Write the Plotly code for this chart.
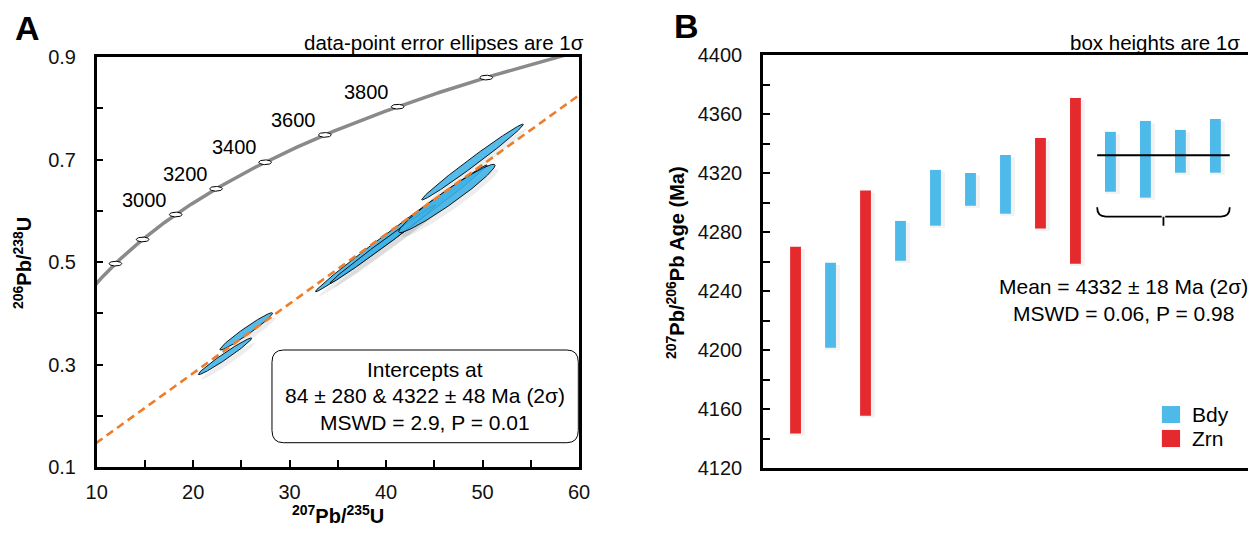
import numpy as np
import plotly.graph_objects as go

# ---------------- Panel A data (207Pb/235U, 1s, 206Pb/238U, 1s, rho) ----------------
r75 = [48.96, 41.58, 39.66, 46.30, 25.50, 23.30]
s75 = [5.27, 8.90, 5.48, 5.00, 2.73, 2.77]
r68 = [0.695, 0.5657, 0.5348, 0.624, 0.3647, 0.316]
s68 = [0.074, 0.1237, 0.0764, 0.0667, 0.0364, 0.0358]
rho = [0.9913, 0.9961, 0.9955, 0.968, 0.973, 0.980]

conc_ages = [2600, 2800, 3000, 3200, 3400, 3600, 3800, 4000]
conc_labels = ["", "", "3000", "3200", "3400", "3600", "3800", ""]
lower_intercept = 84      # Ma
upper_intercept = 4322    # Ma

# ---------------- Panel B data ----------------
grain = list(range(1, 14))
age76 = [4206.7, 4230.4, 4231.8, 4274.0, 4303.2, 4308.9, 4312.3, 4313.0, 4314.7,
         4327.6, 4329.3, 4334.7, 4338.4]
sig76 = [63.3, 28.8, 76.3, 13.5, 18.9, 11.1, 19.9, 30.7, 56.2, 20.3, 26.0, 14.5, 18.2]
phase = ["Zrn", "Bdy", "Zrn", "Bdy", "Bdy", "Bdy", "Bdy", "Zrn", "Zrn",
         "Bdy", "Bdy", "Bdy", "Bdy"]
mean_age = 4332

L238 = 1.55125e-10
L235 = 9.8485e-10

def conc(t_ma):
    t = np.asarray(t_ma, dtype=float) * 1e6
    return np.exp(L235 * t) - 1, np.exp(L238 * t) - 1

FONT = "Arial, Liberation Sans, Helvetica, sans-serif"
BLUE = "#4DBAEA"
RED = "#E52A2E"

fig = go.Figure()

# concordia curve
tc = np.linspace(2300, 4250, 500)
cx, cy = conc(tc)
fig.add_trace(go.Scatter(x=cx, y=cy, mode="lines", line=dict(color="#8A8A8A", width=3.5),
                         hoverinfo="skip", showlegend=False, xaxis="x", yaxis="y"))

# concordia age markers (small horizontal ellipses)
th = np.linspace(0, 2 * np.pi, 61)
mx, my = conc(conc_ages)
for x0, y0 in zip(mx, my):
    fig.add_trace(go.Scatter(x=x0 + 0.66 * np.cos(th), y=y0 + 0.0046 * np.sin(th),
                             mode="lines", fill="toself", fillcolor="white",
                             line=dict(color="black", width=1), hoverinfo="skip",
                             showlegend=False, xaxis="x", yaxis="y"))

# data-point error ellipses (shadow first)
th2 = np.linspace(0, 2 * np.pi, 241)
for ex0, sx, ey0, sy, r in zip(r75, s75, r68, s68, rho):
    ex = ex0 + sx * np.cos(th2)
    ey = ey0 + sy * (r * np.cos(th2) + np.sqrt(1 - r * r) * np.sin(th2))
    fig.add_trace(go.Scatter(x=ex + 0.35, y=ey - 0.009, mode="lines", fill="toself",
                             fillcolor="rgba(0,0,0,0.07)", line=dict(width=0),
                             hoverinfo="skip", showlegend=False, xaxis="x", yaxis="y"))
for ex0, sx, ey0, sy, r in zip(r75, s75, r68, s68, rho):
    ex = ex0 + sx * np.cos(th2)
    ey = ey0 + sy * (r * np.cos(th2) + np.sqrt(1 - r * r) * np.sin(th2))
    fig.add_trace(go.Scatter(x=ex, y=ey, mode="lines", fill="toself",
                             fillcolor="rgba(62,178,232,0.88)",
                             line=dict(color="black", width=0.9),
                             hoverinfo="skip", showlegend=False, xaxis="x", yaxis="y"))

# discordia
dx, dy = conc([lower_intercept, upper_intercept])
fig.add_trace(go.Scatter(x=dx, y=dy, mode="lines",
                         line=dict(color="#EE7D2B", width=2.6, dash="8px,5px"),
                         hoverinfo="skip", showlegend=False, xaxis="x", yaxis="y"))

# ---------------- Panel B traces ----------------
for ph, col in (("Bdy", BLUE), ("Zrn", RED)):
    xs = [g for g, p in zip(grain, phase) if p == ph]
    lo = [a - s for a, s, p in zip(age76, sig76, phase) if p == ph]
    hh = [2 * s for s, p in zip(sig76, phase) if p == ph]
    fig.add_trace(go.Bar(x=[v + 0.06 for v in xs], y=hh, base=[v - 1.5 for v in lo],
                         width=0.42, marker=dict(color="rgba(0,0,0,0.05)", line=dict(width=0)),
                         hoverinfo="skip", showlegend=False, xaxis="x2", yaxis="y2"))
for ph, col in (("Bdy", BLUE), ("Zrn", RED)):
    xs = [g for g, p in zip(grain, phase) if p == ph]
    lo = [a - s for a, s, p in zip(age76, sig76, phase) if p == ph]
    hh = [2 * s for s, p in zip(sig76, phase) if p == ph]
    fig.add_trace(go.Bar(x=xs, y=hh, base=lo, width=0.31, name=ph,
                         marker=dict(color=col, line=dict(width=0)),
                         showlegend=False, xaxis="x2", yaxis="y2"))

# weighted mean line
fig.add_trace(go.Scatter(x=[grain[9] - 0.38, grain[12] + 0.41], y=[mean_age, mean_age],
                         mode="lines", line=dict(color="black", width=2),
                         hoverinfo="skip", showlegend=False, xaxis="x2", yaxis="y2"))

shapes = []
# rounded annotation box in panel A
bx0, bx1, by0, by1, rx, ry = 28.17, 59.93, 0.1474, 0.3283, 1.2, 0.024
path = (f"M {bx0+rx},{by1} L {bx1-rx},{by1} Q {bx1},{by1} {bx1},{by1-ry} "
        f"L {bx1},{by0+ry} Q {bx1},{by0} {bx1-rx},{by0} L {bx0+rx},{by0} "
        f"Q {bx0},{by0} {bx0},{by0+ry} L {bx0},{by1-ry} Q {bx0},{by1} {bx0+rx},{by1} Z")
shapes.append(dict(type="path", path=path, xref="x", yref="y",
                   line=dict(color="black", width=1), fillcolor="white", layer="above"))

# brace under the last four grains
b0, b1 = 9.62, 13.41
bm = (b0 + b1) / 2
yt, yh, yb = 4296.7, 4290.4, 4284.3
bpath = (f"M {b0},{yt} Q {b0},{yh} {b0+0.25},{yh} L {bm-0.05},{yh} "
         f"M {bm},{yh} L {bm},{yb} M {bm+0.05},{yh} L {b1-0.25},{yh} Q {b1},{yh} {b1},{yt}")
shapes.append(dict(type="path", path=bpath, xref="x2", yref="y2",
                   line=dict(color="black", width=1.8)))

# legend swatches
shapes.append(dict(type="rect", xref="x2", yref="y2", x0=11.47, x1=11.99, y0=4150.5, y1=4162,
                   fillcolor=BLUE, line=dict(width=0)))
shapes.append(dict(type="rect", xref="x2", yref="y2", x0=11.47, x1=11.99, y0=4134.2, y1=4145.8,
                   fillcolor=RED, line=dict(width=0)))

ann = []
def text(x, y, s, size=20, xref="paper", yref="paper", xanchor="center", yanchor="middle",
         angle=0, xshift=0, yshift=0):
    ann.append(dict(x=x, y=y, xref=xref, yref=yref, text=s, showarrow=False,
                    xanchor=xanchor, yanchor=yanchor, textangle=angle,
                    xshift=xshift, yshift=yshift,
                    font=dict(family=FONT, size=size, color="black")))

# the page body adds an 8 px margin; the figure fills the rest of the window
OFF = 8
W, H = 1256 - OFF, 536 - OFF
def px(xp): return (xp - OFF) / W
def py(yp): return 1 - (yp - OFF) / H

text(px(27), py(28), "<b>A</b>", size=34)
text(px(686), py(26), "<b>B</b>", size=34)
text(px(586), py(42), "data-point error ellipses are 1σ", size=20.5, xanchor="right")
text(px(1242), py(42), "box heights are 1σ", size=20.5, xanchor="right")

# concordia age labels
for x0, y0, lab in zip(mx, my, conc_labels):
    if lab:
        text(x0, y0, lab, size=20, xref="x", yref="y", xshift=-31, yshift=15)

# intercept box text
xc = (bx0 + bx1) / 2
text(xc, 0.2893, "Intercepts at", size=21, xref="x", yref="y")
text(xc, 0.2386, "84 ± 280 &amp; 4322 ± 48 Ma (2σ)", size=21, xref="x", yref="y")
text(xc, 0.1878, "MSWD = 2.9, P = 0.01", size=21, xref="x", yref="y")

# mean text
text(10.37, 4242.9, "Mean = 4332 ± 18 Ma (2σ)", size=21, xref="x2", yref="y2")
text(10.37, 4224.9, "MSWD = 0.06, P = 0.98", size=21, xref="x2", yref="y2")

# legend labels
text(12.27, 4156.2, "Bdy", size=21, xref="x2", yref="y2", xanchor="left")
text(12.27, 4140.0, "Zrn", size=21, xref="x2", yref="y2", xanchor="left")

# axis titles
text(px(338), py(514), "<b><sup>207</sup>Pb/<sup>235</sup>U</b>", size=20)
text(px(23), py(263), "<b><sup>206</sup>Pb/<sup>238</sup>U</b>", size=20, angle=-90)
text(px(676), py(263), "<b><sup>207</sup>Pb/<sup>206</sup>Pb Age (Ma)</b>", size=20, angle=-90)

axis_common = dict(showgrid=False, zeroline=False, showline=True, linecolor="black",
                   linewidth=2.5, mirror=True, ticks="inside", ticklen=7, tickwidth=2,
                   tickcolor="black", automargin=False,
                   tickfont=dict(family=FONT, size=20, color="#111"))

fig.update_layout(
    width=W, height=H, margin=dict(l=0, r=0, t=0, b=0, autoexpand=False),
    paper_bgcolor="white", plot_bgcolor="white", barmode="overlay",
    xaxis=dict(domain=[px(96.7), px(579)], range=[10, 60], tick0=10, dtick=10,
               minor=dict(dtick=5, ticks="inside", ticklen=7, tickwidth=2, tickcolor="black"),
               ticklabelstandoff=5, anchor="y", **axis_common),
    yaxis=dict(domain=[py(467), py(57)], range=[0.1, 0.9], tick0=0.1, dtick=0.2,
               minor=dict(dtick=0.1, tick0=0.1, ticks="inside", ticklen=7, tickwidth=2,
                          tickcolor="black"),
               ticklabelstandoff=14, anchor="x", **axis_common),
    xaxis2=dict(domain=[px(763), px(1249)], range=[0.07, 13.96], showticklabels=False,
                anchor="y2", **{**axis_common, "ticks": ""}),
    yaxis2=dict(domain=[py(468), py(55)], range=[4120, 4400], tick0=4120, dtick=40,
                minor=dict(dtick=20, ticks="inside", ticklen=7, tickwidth=2, tickcolor="black"),
                ticklabelstandoff=14, anchor="x2", **axis_common),
    shapes=shapes, annotations=ann, showlegend=False,
)

fig.write_html("out.html")
